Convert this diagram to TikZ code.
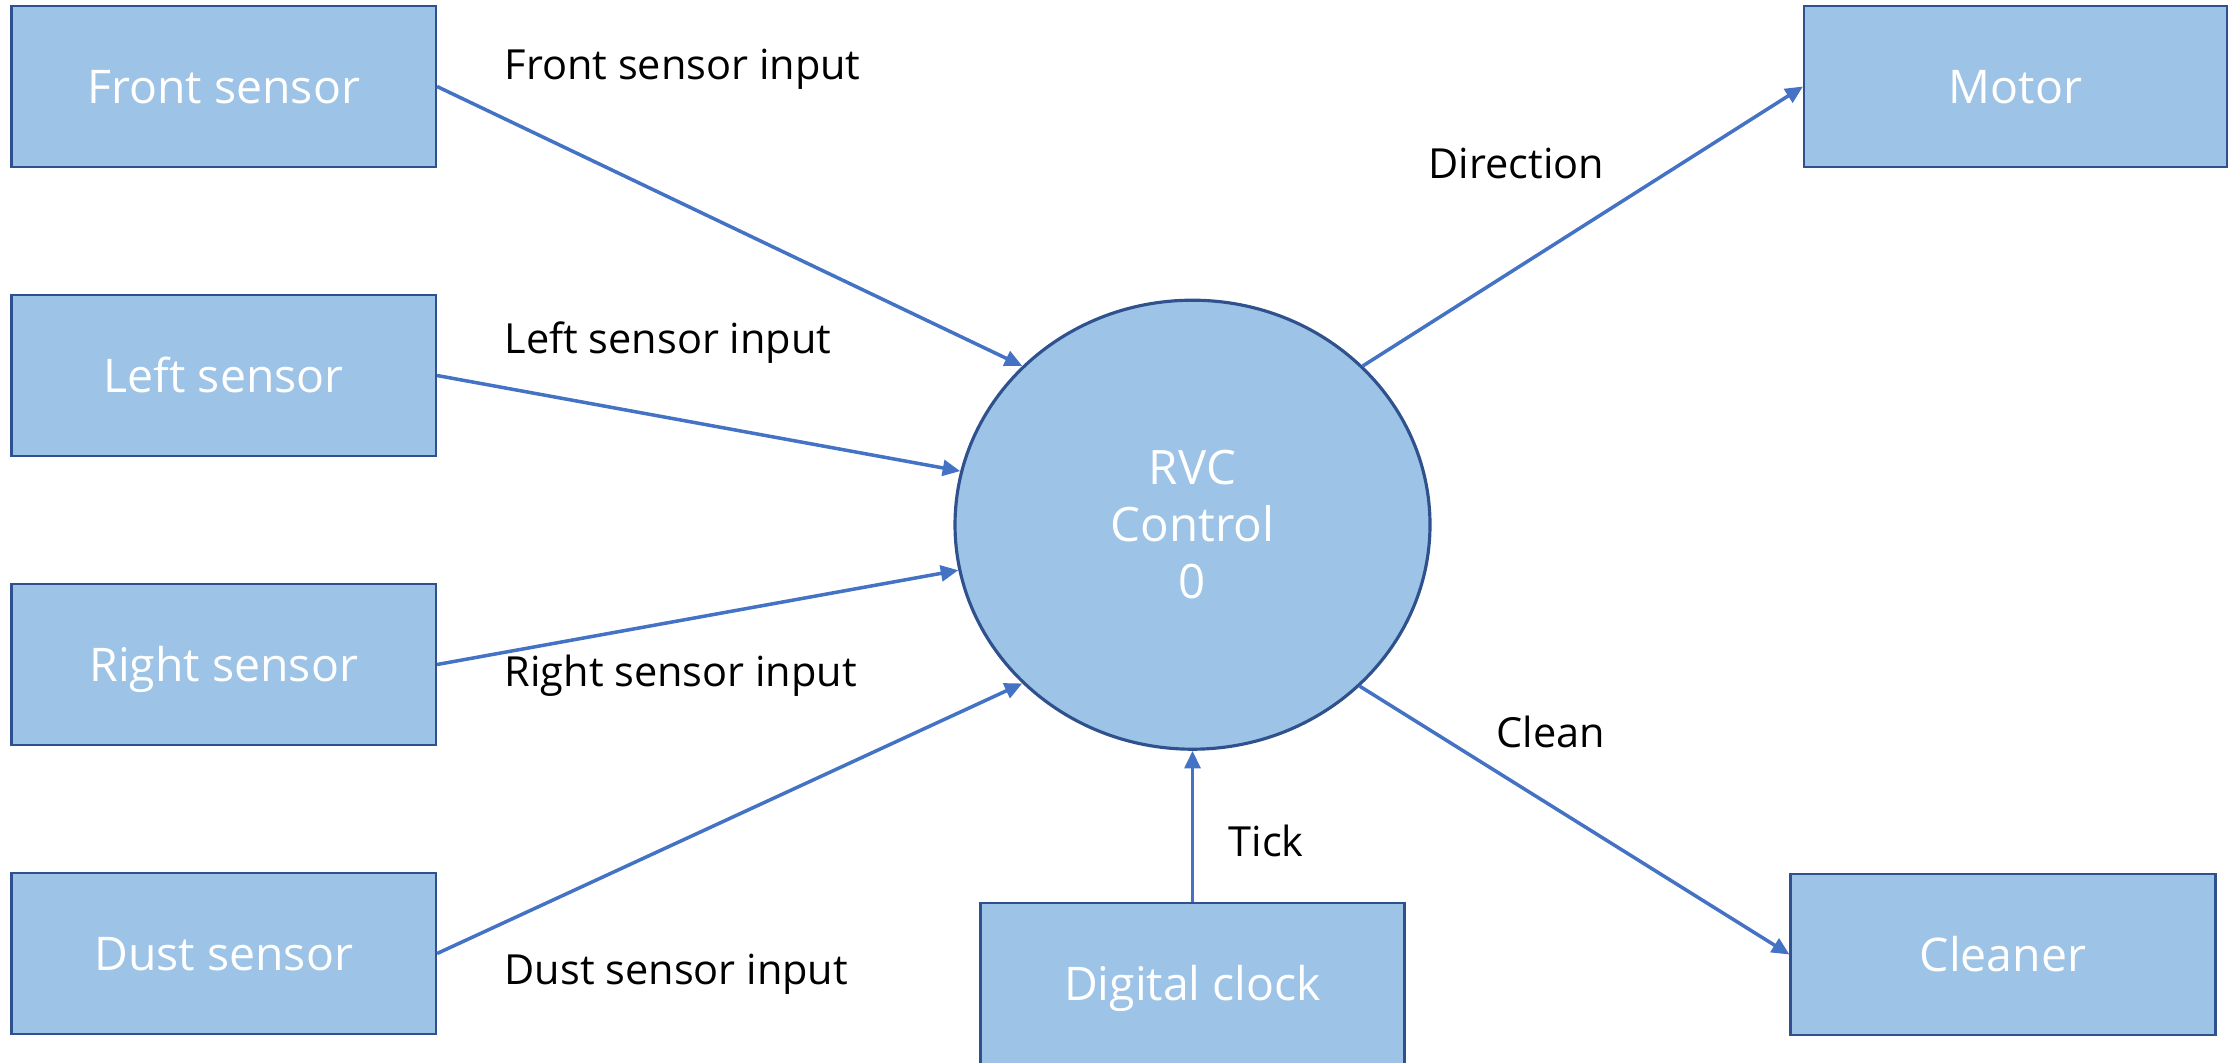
\documentclass[tikz,border=0pt]{standalone}
\usepackage{fontspec}
\setmainfont{Open Sans}
\usetikzlibrary{positioning,shapes.geometric,arrows.meta}
\definecolor{boxfill}{HTML}{9DC3E6}
\definecolor{boxline}{HTML}{2F528F}
\definecolor{arrowblue}{HTML}{4472C4}

\begin{document}
\begin{tikzpicture}
	[   bnode/.style={draw=boxline,line width=0.6pt,fill=boxfill,text=white,minimum width=4.245cm,minimum height=1.61cm,inner sep=0pt,font=\fontsize{13.2}{16}\selectfont,text height=9.4pt,text depth=0pt},
	    enode/.style={ellipse,draw=boxline,line width=0.9pt,fill=boxfill,text=white,minimum width=4.75cm,minimum height=4.49cm,inner sep=0pt,align=center,font=\fontsize{13.5}{16.3}\selectfont},
	    lbl/.style={anchor=base west,inner sep=0pt,font=\fontsize{11.8}{14}\selectfont},
	]
	\tikzset{normal arrow/.style={draw=arrowblue,line width=1pt,-{Triangle[length=5pt,width=4.5pt]}}}
	\useasboundingbox (0,0) rectangle (22.32,-10.62);
	\node[enode] (rvc) at (11.925,-5.247) {RVC\\Control\\0};
	
	\foreach \lab/\a/\b [count=\x] in {Front/137/-0.79,Left/167/-3.53,Right/191/-6.86,Dust/223/-9.84}
	{
		\node[bnode] (s-\x) at (2.2375,{-0.865-2.89*(\x-1)}) {\lab\ sensor};
		\node[lbl] (l-\x) at (5.04,\b) {\lab\ sensor input};
		\path[normal arrow] (s-\x.east) -- (rvc.\a);
	}
	
	\node[bnode,minimum width=4.23cm] (o-1) at (20.155,-0.865) {Motor};
	\node[bnode,minimum width=4.25cm] (o-2) at (20.03,-9.545) {Cleaner};
	\node[bnode,minimum width=4.24cm] (c) at (11.925,-9.835) {Digital clock};
	
	\path[normal arrow] (rvc.43.5) -- (o-1.west);
	\path[normal arrow] (rvc.316.5) -- (o-2.west);
	\path[normal arrow] (c) -- (rvc);
	
	\node[lbl] (l-dir) at (14.28,-1.78) {Direction};
	\node[lbl] (l-cln) at (14.96,-7.47) {Clean};
	\node[lbl] (l-tick) at (12.28,-8.56) {Tick};
\end{tikzpicture}
\end{document}
